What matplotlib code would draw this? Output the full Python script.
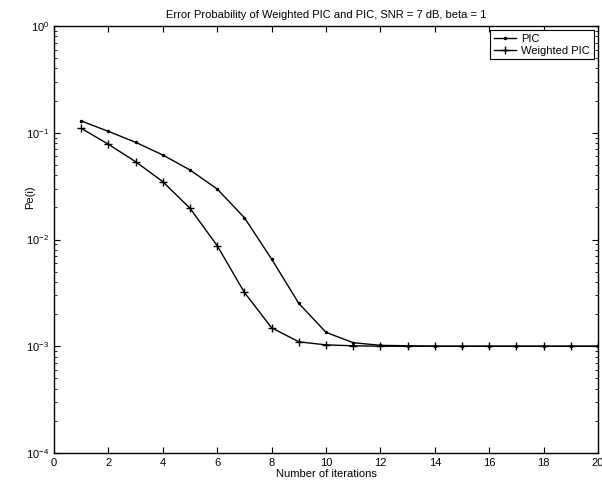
import matplotlib
matplotlib.use("Agg")
from matplotlib import pyplot

iterations = list(range(1, 21))
pe_pic = [0.129, 0.103, 0.0814, 0.0619, 0.0448, 0.0297, 0.0160, 0.00656,
          0.00252, 0.00135, 0.00108, 0.00102, 0.00101, 0.001, 0.001,
          0.001, 0.001, 0.001, 0.001, 0.001]
pe_weighted = [0.110, 0.078, 0.0536, 0.0348, 0.0196, 0.00875, 0.00319,
               0.00149, 0.00110, 0.00103, 0.00101, 0.001, 0.001, 0.001,
               0.001, 0.001, 0.001, 0.001, 0.001, 0.001]
x_ticks = list(range(0, 21, 2))

fontsize = 8
pyplot.rcParams['font.family'] = ['Liberation Sans', 'DejaVu Sans']

fig = pyplot.figure(figsize=(6.02, 4.86), dpi=100)
axes = fig.add_axes((0.0897, 0.0679, 0.9037, 0.8786))

axes.semilogy(iterations, pe_pic, color='black', linestyle='-', linewidth=1.0,
              marker='.', markersize=3, label='PIC')
axes.semilogy(iterations, pe_weighted, color='black', linestyle='-', linewidth=1.0,
              marker='+', markersize=6, markeredgewidth=1.0, label='Weighted PIC')

axes.set_xlim(0, 20)
axes.set_ylim(1e-4, 1)
axes.set_xticks(x_ticks)
axes.tick_params(which='both', direction='in', top=True, right=True,
                 labelsize=fontsize)
axes.tick_params(which='major', length=4)
axes.tick_params(which='minor', length=2)
for spine in axes.spines.values():
    spine.set_linewidth(1.0)

axes.set_title('Error Probability of Weighted PIC and PIC, SNR = 7 dB, beta = 1',
               fontsize=fontsize, pad=6)
axes.set_xlabel('Number of iterations', fontsize=fontsize, labelpad=1)
axes.set_ylabel('Pe(i)', fontsize=fontsize)
axes.yaxis.set_label_coords(-0.035, 0.6)

legend = axes.legend(loc='upper right', fontsize=fontsize, handlelength=2.0,
                     fancybox=False, framealpha=1, borderaxespad=0.4,
                     borderpad=0.3, labelspacing=0.2, handletextpad=0.5)
legend.get_frame().set_edgecolor('black')
legend.get_frame().set_linewidth(0.8)

fig.savefig('out.png', dpi=100)
